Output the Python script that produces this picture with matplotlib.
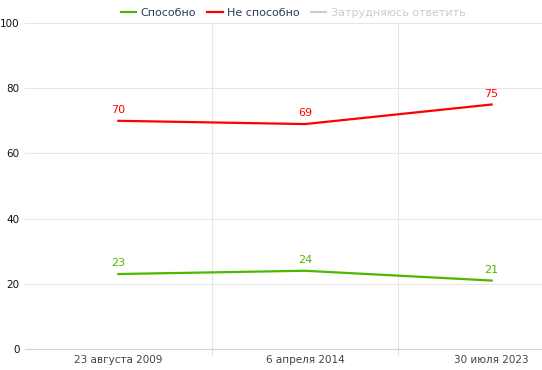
import matplotlib.pyplot as plt
from matplotlib.lines import Line2D

categories = ["23 августа 2009", "6 апреля 2014", "30 июля 2023"]
able = [23, 24, 21]
not_able = [70, 69, 75]
series_names = ["Способно", "Не способно", "Затрудняюсь ответить"]

green = "#4cb800"
red = "#ff0000"

fig = plt.figure(figsize=(5.42, 3.70), dpi=100)
ax = fig.add_axes([25 / 542, 21 / 370, 517 / 542, 326 / 370])

x = list(range(len(categories)))
ax.plot(x, able, color=green, lw=1.6)
ax.plot(x, not_able, color=red, lw=1.6)

for i in x:
    ax.text(i, able[i] + 1.8, str(able[i]), color=green, ha="center", va="bottom", fontsize=8)
    ax.text(i, not_able[i] + 1.8, str(not_able[i]), color=red, ha="center", va="bottom", fontsize=8)

ax.set_xlim(-0.5, 2.27)
ax.set_ylim(0, 100)
ax.set_yticks([0, 20, 40, 60, 80, 100])
ax.set_xticks(x)
ax.set_xticklabels(categories, color="#444444", fontsize=7.5)
ax.set_xticks([0.5, 1.5], minor=True)
ax.tick_params(axis="x", which="major", length=0, pad=4)
ax.tick_params(axis="x", which="minor", length=4, color="#ccd6eb")
ax.tick_params(axis="y", length=0, pad=4, labelsize=7.5, labelcolor="#111111")

ax.grid(axis="y", color="#e6e6e6", lw=0.8)
ax.grid(axis="x", which="minor", color="#e6e6e6", lw=0.8)
ax.set_axisbelow(True)
for s in ["top", "right", "left"]:
    ax.spines[s].set_visible(False)
ax.spines["bottom"].set_color("#ccd6eb")

handles = [
    Line2D([], [], color=green, lw=1.6),
    Line2D([], [], color=red, lw=1.6),
    Line2D([], [], color="#cccccc", lw=1.6),
]
leg = fig.legend(handles, series_names, loc="center", bbox_to_anchor=(293 / 542, 1 - 13 / 370),
                 ncol=3, frameon=False, fontsize=8, handlelength=1.4, columnspacing=1.0,
                 handletextpad=0.4)
colors = ["#2b3f55", "#2b3f55", "#cccccc"]
for t, c in zip(leg.get_texts(), colors):
    t.set_color(c)

fig.savefig("out.png", dpi=100)
